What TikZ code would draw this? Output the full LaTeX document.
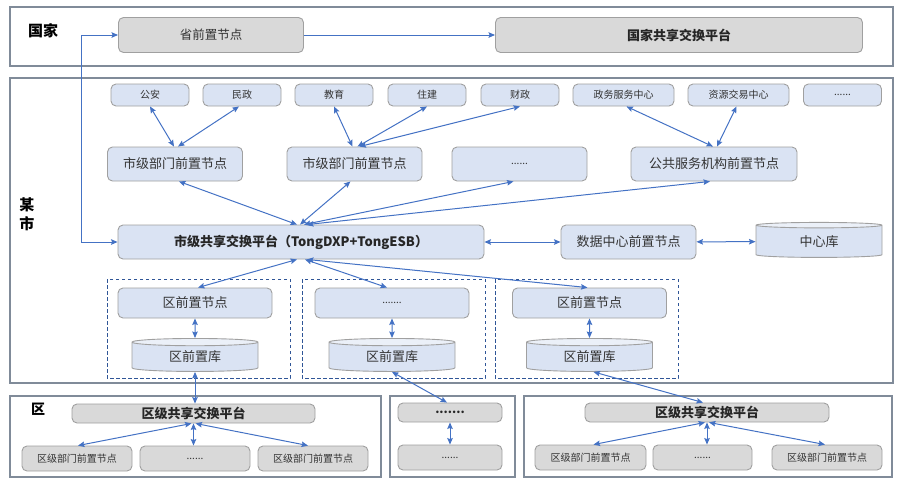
\documentclass[tikz,border=0pt]{standalone}
\usepackage{fontspec}
\newfontfamily\cjk{Noto Sans CJK SC}
\usepackage{tikz}
\usetikzlibrary{positioning,shapes.geometric,arrows.meta}
\newcommand{\fsz}[1]{\fontsize{#1}{#1}\selectfont}
\definecolor{arrowblue}{HTML}{4472C4}
\definecolor{lblue}{HTML}{DAE3F3}
\definecolor{lgrey}{HTML}{D9D9D9}
\definecolor{bord}{HTML}{A0A0A0}
\definecolor{frm}{HTML}{808B99}
\definecolor{dsh}{HTML}{2F5597}
\tikzstyle{frame}=[draw=frm, line width=1.2pt]
\tikzstyle{dashbox}=[draw=dsh, line width=0.9pt, dash pattern=on 3.5pt off 2.5pt]
\tikzstyle{grey}=[draw=bord, line width=0.9pt, fill=lgrey, rounded corners=5pt, inner sep=0pt, text=black!80, font=\cjk\fsz{13}]
\tikzstyle{blu}=[draw=bord, line width=0.9pt, fill=lblue, rounded corners=5pt, inner sep=0pt, text=black!80, font=\cjk\fsz{13}]
\tikzstyle{small}=[blu, minimum width=78pt, minimum height=22pt, font=\cjk\fsz{10}]
\tikzstyle{db}=[cylinder, shape border rotate=90, aspect=0.14, draw=bord, line width=0.9pt, cylinder uses custom fill, cylinder body fill=lblue, cylinder end fill=lblue!55, inner sep=0pt, text=black!80, font=\cjk\fsz{13}]
\tikzstyle{bi}=[draw=arrowblue, line width=1pt, {Stealth[length=6.5pt,width=5.5pt,inset=1pt]}-{Stealth[length=6.5pt,width=5.5pt,inset=1pt]}]

\begin{document}
\begin{tikzpicture}[x=1pt,y=-1pt]
\useasboundingbox (0,0) rectangle (900,483);

% frames
\draw[frame] (10,7) rectangle (893,66);
\draw[frame] (10,78) rectangle (893,383);
\draw[frame] (10,396) rectangle (381,477);
\draw[frame] (390,396) rectangle (515,477);
\draw[frame] (524,396) rectangle (892,477);

\node[font=\cjk\bfseries\fsz{15}] (lguo) at (43,31) {国家};
\node[font=\cjk\bfseries\fontsize{15}{19}\selectfont, align=center] (lshi) at (27,214) {某\\市};
\node[font=\cjk\bfseries\fsz{14}] (lqu) at (38,409) {区};

% national level
\node[grey, minimum width=185pt, minimum height=35pt, font=\cjk\fsz{12.5}] (prov) at (211,35) {省前置节点};
\node[grey, minimum width=367pt, minimum height=35pt, font=\cjk\bfseries\fsz{13}, text=black!85] (natplat) at (679,35) {国家共享交换平台};
\draw[bi, -{Stealth[length=6.5pt,width=5.5pt,inset=1pt]}] (prov) -- (natplat);

% city departments
\node[small] (gongan) at (150,95) {公安};
\node[small] (minzheng) at (242,95) {民政};
\node[small] (jiaoyu) at (334,95) {教育};
\node[small] (zhujian) at (427,95) {住建};
\node[small] (caizheng) at (520,95) {财政};
\node[small, minimum width=101pt] (zwzx) at (623.5,95) {政务服务中心};
\node[small, minimum width=101pt] (zyjy) at (738.5,95) {资源交易中心};
\node[small] (topdots) at (842.5,95) {......};

\node[blu, minimum width=135pt, minimum height=34pt] (shiji1) at (175,164) {市级部门前置节点};
\node[blu, minimum width=135pt, minimum height=34pt] (shiji2) at (354.5,164) {市级部门前置节点};
\node[blu, minimum width=135pt, minimum height=34pt, font=\cjk\fsz{10}] (shidots) at (519.5,164) {......};
\node[blu, minimum width=166pt, minimum height=34pt] (ggfw) at (714,164) {公共服务机构前置节点};

\draw[bi] (gongan.south) -- ([xshift=-1pt]shiji1.north);
\draw[bi] ([xshift=-3pt]minzheng.south) -- ([xshift=3pt]shiji1.north);
\draw[bi] (jiaoyu.south) -- ([xshift=-2pt]shiji2.north);
\draw[bi] (zhujian.south) -- ([xshift=3pt]shiji2.north);
\draw[bi] (caizheng.south) -- ([xshift=5pt]shiji2.north);
\draw[bi] ([xshift=3pt]zwzx.south) -- ([xshift=-1pt]ggfw.north);
\draw[bi] ([xshift=-2pt]zyjy.south) -- ([xshift=3pt]ggfw.north);

% city platform
\node[blu, minimum width=366pt, minimum height=34pt, font=\cjk\bfseries\fsz{13}, text=black!85] (cityplat) at (301,242) {市级共享交换平台（TongDXP+TongESB）};
\node[blu, minimum width=135pt, minimum height=34pt] (dcnode) at (628.5,242) {数据中心前置节点};
\node[db, minimum width=126pt, minimum height=35pt] (centdb) at (819,241.5) {中心库};

\draw[bi] ([xshift=4pt]shiji1.south) -- ([xshift=-4pt]cityplat.north);
\draw[bi] ([xshift=-4pt]shiji2.south) -- ([xshift=-1pt]cityplat.north);
\draw[bi] ([xshift=-6pt]shidots.south) -- ([xshift=3pt]cityplat.north);
\draw[bi] ([xshift=-4pt]ggfw.south) -- ([xshift=6pt]cityplat.north);
\draw[bi] (cityplat) -- (dcnode);
\draw[bi] (dcnode) -- (centdb);
\draw[bi] (prov.west) -- ++(-37,0) |- (cityplat.west);

% district front nodes
\draw[dashbox] (107,279) rectangle (290,378);
\draw[dashbox] (302,279) rectangle (485,378);
\draw[dashbox] (495,279) rectangle (678,378);

\node[blu, minimum width=154pt, minimum height=30pt] (qnA) at (195,303) {区前置节点};
\node[blu, minimum width=154pt, minimum height=30pt, font=\cjk\fsz{10}] (qnB) at (392,303) {.......};
\node[blu, minimum width=154pt, minimum height=30pt] (qnC) at (589.5,303) {区前置节点};
\node[db, minimum width=126pt, minimum height=33pt, below of = qnA, node distance = 54pt] (qkA) {区前置库};
\node[db, minimum width=126pt, minimum height=33pt, below of = qnB, node distance = 54pt] (qkB) {区前置库};
\node[db, minimum width=126pt, minimum height=33pt, below of = qnC, node distance = 54pt] (qkC) {区前置库};

\draw[bi] ([xshift=-4pt]cityplat.south) -- ([xshift=3pt]qnA.north);
\draw[bi] ([xshift=4pt]cityplat.south) -- ([xshift=-5pt]qnB.north);
\draw[bi] ([xshift=6pt]cityplat.south) -- ([xshift=-2pt]qnC.north);
\draw[bi] (qnA) -- (qkA);
\draw[bi] (qnB) -- (qkB);
\draw[bi] (qnC) -- (qkC);

% districts
\node[grey, minimum width=243pt, minimum height=19pt, font=\cjk\bfseries\fsz{13}, text=black!85] (qplat1) at (193.5,413.5) {区级共享交换平台};
\node[grey, minimum width=110pt, minimum height=25pt, font=\cjk\fsz{10}] (b1l) at (77,458.5) {区级部门前置节点};
\node[grey, minimum width=110pt, minimum height=25pt, font=\cjk\fsz{10}] (b1m) at (195,458.5) {......};
\node[grey, minimum width=110pt, minimum height=25pt, font=\cjk\fsz{10}] (b1r) at (313,458.5) {区级部门前置节点};

\node[grey, minimum width=104pt, minimum height=19pt, font=\cjk\bfseries\fsz{12}, text=black!85] (b2t) at (450,412.5) {.......};
\node[grey, minimum width=104pt, minimum height=25pt, font=\cjk\fsz{10}] (b2b) at (450,457.5) {......};

\node[grey, minimum width=244pt, minimum height=19pt, font=\cjk\bfseries\fsz{13}, text=black!85] (qplat3) at (707,412.5) {区级共享交换平台};
\node[grey, minimum width=111pt, minimum height=25pt, font=\cjk\fsz{10}] (b3l) at (590.5,457.5) {区级部门前置节点};
\node[grey, minimum width=99pt, minimum height=25pt, font=\cjk\fsz{10}] (b3m) at (702.5,457.5) {......};
\node[grey, minimum width=110pt, minimum height=25pt, font=\cjk\fsz{10}] (b3r) at (827,457.5) {区级部门前置节点};

\draw[bi] (qkA.south) -- (qkA.south |- qplat1.north);
\draw[bi] (qkB.south) -- ([xshift=-3pt]b2t.north);
\draw[bi] ([xshift=4pt]qkC.south) -- ([xshift=-4pt]qplat3.north);

\draw[bi] ([xshift=-2pt]qplat1.south) -- ([xshift=1pt]b1l.north);
\draw[bi] (qplat1.south) -- (qplat1.south |- b1m.north);
\draw[bi] ([xshift=2pt]qplat1.south) -- ([xshift=-5pt]b1r.north);
\draw[bi] (b2t) -- (b2b);
\draw[bi] ([xshift=-2pt]qplat3.south) -- ([xshift=3pt]b3l.north);
\draw[bi] (qplat3.south) -- (qplat3.south |- b3m.north);
\draw[bi] ([xshift=2pt]qplat3.south) -- ([xshift=-2pt]b3r.north);
\end{tikzpicture}
\end{document}
